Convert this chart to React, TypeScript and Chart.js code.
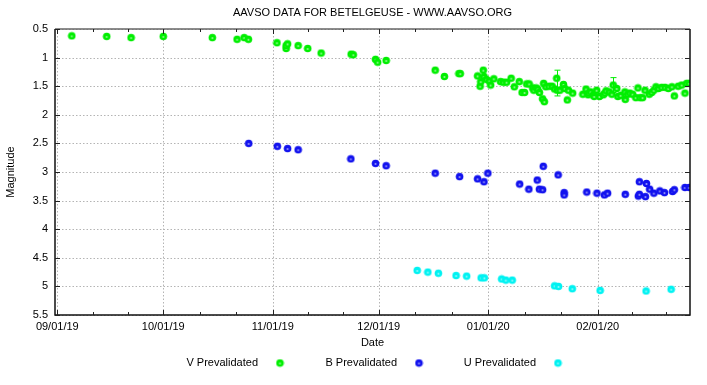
import React, { useEffect, useRef } from 'react';
import { Chart, registerables } from 'chart.js';

Chart.register(...registerables);

const TITLE = 'AAVSO DATA FOR BETELGEUSE - WWW.AAVSO.ORG';
const X_TITLE = 'Date';
const Y_TITLE = 'Magnitude';

// x values are days since 09/01/19
const X_MIN = -0.65;
const X_MAX = 179.13;
const tickDays = [0, 30, 61, 91, 122, 153];
const tickLabels = ['09/01/19', '10/01/19', '11/01/19', '12/01/19', '01/01/20', '02/01/20'];
const yTicks = [0.5, 1, 1.5, 2, 2.5, 3, 3.5, 4, 4.5, 5, 5.5];

const seriesNames = ['V Prevalidated', 'B Prevalidated', 'U Prevalidated'];
const seriesColors = ['#00ee00', '#1212ee', '#00f2f2'];

const vDays = [
  4.1, 14.0, 20.9, 30.0, 43.9, 50.9, 52.9, 54.1, 62.2, 64.8, 64.8, 65.2, 68.2, 70.9, 74.7,
  83.2, 83.8, 90.1, 90.7, 93.1, 107.0, 109.6, 113.7, 114.1, 119.0, 119.7, 119.9, 120.6,
  120.8, 121.5, 122.3, 122.7, 123.6, 125.5, 126.3, 127.2, 128.5, 129.4, 130.8, 131.6, 132.3,
  132.9, 133.6, 134.6, 134.9, 135.6, 136.0, 136.5, 137.4, 137.9, 137.7, 138.3, 139.2, 140.1,
  140.8, 141.4, 141.6, 142.3, 143.3, 143.7, 144.4, 144.7, 145.9, 148.8, 149.7, 150.3, 150.5,
  151.0, 151.8, 152.0, 152.7, 153.5, 154.6, 155.0, 155.4, 156.3, 157.0, 157.4, 158.4, 158.7,
  159.5, 160.7, 160.8, 161.5, 162.1, 162.9, 163.8, 164.4, 165.0, 165.7, 166.4, 167.6, 168.3,
  168.9, 169.5, 170.2, 171.1, 172.1, 173.0, 174.0, 174.7, 175.8, 176.8, 177.7, 178.2, 178.9,
];
const vMags = [
  0.62, 0.63, 0.65, 0.63, 0.65, 0.68, 0.65, 0.68, 0.74, 0.84, 0.79, 0.76, 0.79, 0.84, 0.92,
  0.94, 0.95, 1.03, 1.08, 1.05, 1.22, 1.33, 1.28, 1.28, 1.32, 1.50, 1.42, 1.22,
  1.33, 1.38, 1.41, 1.48, 1.37, 1.42, 1.43, 1.43, 1.36, 1.51, 1.42, 1.61, 1.61,
  1.46, 1.46, 1.53, 1.57, 1.53, 1.55, 1.61, 1.72, 1.77, 1.45, 1.51, 1.50, 1.50,
  1.55, 1.36, 1.57, 1.57, 1.47, 1.54, 1.74, 1.57, 1.62, 1.64, 1.55, 1.65, 1.62,
  1.60, 1.65, 1.68, 1.57, 1.68, 1.65, 1.62, 1.58, 1.60, 1.64, 1.48, 1.54, 1.68,
  1.66, 1.60, 1.73, 1.64, 1.62, 1.64, 1.70, 1.53, 1.70, 1.70, 1.57, 1.64, 1.61,
  1.57, 1.51, 1.54, 1.52, 1.52, 1.54, 1.51, 1.67, 1.50, 1.48, 1.62, 1.45, 1.45,
];

const bDays = [
  54.2, 62.3, 65.2, 68.2, 83.1, 90.1, 93.1, 107.0, 113.9, 119.0, 120.8, 121.9, 130.9, 133.5,
  135.9, 137.6, 136.5, 137.4, 141.8, 143.5, 143.5, 149.9, 152.8, 154.9, 155.8, 160.8, 164.5,
  164.8, 166.5, 164.8, 166.8, 167.7, 168.9, 170.6, 171.9, 174.2, 174.7, 177.7, 178.9,
];
const bMags = [
  2.50, 2.55, 2.59, 2.61, 2.77, 2.85, 2.89, 3.02, 3.08, 3.12, 3.17, 3.02, 3.21, 3.30,
  3.14, 2.90, 3.30, 3.31, 3.05, 3.36, 3.40, 3.35, 3.37, 3.40, 3.37, 3.39, 3.42,
  3.39, 3.43, 3.17, 3.20, 3.30, 3.37, 3.33, 3.36, 3.34, 3.31, 3.27, 3.27,
];

const uDays = [
  101.9, 104.9, 107.9, 112.9, 115.9, 120.0, 120.9, 125.8, 127.0, 128.8, 140.8, 141.9, 145.8,
  153.7, 166.7, 173.8,
];
const uMags = [
  4.72, 4.75, 4.77, 4.81, 4.82, 4.85, 4.85, 4.87, 4.89, 4.89, 4.99, 5.00, 5.04,
  5.07, 5.08, 5.05,
];

// V error bars
const vErrDays = [141.4, 157.4];
const vErrLow = [1.22, 1.35];
const vErrHigh = [1.67, 1.61];

const FONT = '"Liberation Sans", Arial, Helvetica, sans-serif';

function makeDot(color: string): HTMLCanvasElement {
  const c = document.createElement('canvas');
  c.width = 9;
  c.height = 9;
  const g = c.getContext('2d')!;
  g.fillStyle = color;
  g.beginPath();
  g.arc(4.5, 4.5, 3.8, 0, Math.PI * 2);
  g.fill();
  g.fillStyle = 'rgba(255,255,255,0.55)';
  g.beginPath();
  g.arc(4.5, 5, 1.1, 0, Math.PI * 2);
  g.fill();
  return c;
}

const toPoints = (xs: number[], ys: number[]) => xs.map((x, i) => ({ x, y: ys[i] }));

export default function App() {
  const ref = useRef<HTMLCanvasElement | null>(null);

  useEffect(() => {
    document.body.style.margin = '0';
    const canvas = ref.current;
    if (!canvas) return;
    const dots = seriesColors.map(makeDot);

    const framePlugin = {
      id: 'gnuplotFrame',
      beforeDatasetsDraw(chart: any) {
        const { ctx, chartArea: a, scales } = chart;
        ctx.save();
        ctx.strokeStyle = '#b4b4b4';
        ctx.lineWidth = 1;
        ctx.setLineDash([1.5, 2]);
        tickDays.forEach((d) => {
          const x = Math.round(scales.x.getPixelForValue(d)) + 0.5;
          ctx.beginPath();
          ctx.moveTo(x, a.top);
          ctx.lineTo(x, a.bottom);
          ctx.stroke();
        });
        yTicks.forEach((m) => {
          const y = Math.round(scales.y.getPixelForValue(m)) + 0.5;
          ctx.beginPath();
          ctx.moveTo(a.left, y);
          ctx.lineTo(a.right, y);
          ctx.stroke();
        });
        ctx.restore();
      },
      afterDatasetsDraw(chart: any) {
        const { ctx, chartArea: a, scales } = chart;
        ctx.save();
        // error bars
        ctx.strokeStyle = seriesColors[0];
        ctx.lineWidth = 1;
        vErrDays.forEach((d, i) => {
          const x = Math.round(scales.x.getPixelForValue(d)) + 0.5;
          const y1 = scales.y.getPixelForValue(vErrLow[i]);
          const y2 = scales.y.getPixelForValue(vErrHigh[i]);
          ctx.beginPath();
          ctx.moveTo(x, y1);
          ctx.lineTo(x, y2);
          ctx.moveTo(x - 3, y1);
          ctx.lineTo(x + 3, y1);
          ctx.moveTo(x - 3, y2);
          ctx.lineTo(x + 3, y2);
          ctx.stroke();
        });
        // frame
        ctx.lineWidth = 1.5;
        ctx.strokeStyle = '#111';
        ctx.beginPath();
        ctx.moveTo(a.left, a.top);
        ctx.lineTo(a.left, a.bottom);
        ctx.lineTo(a.right, a.bottom);
        ctx.lineTo(a.right, a.top);
        ctx.stroke();
        ctx.strokeStyle = '#666';
        ctx.beginPath();
        ctx.moveTo(a.left, a.top);
        ctx.lineTo(a.right, a.top);
        ctx.stroke();
        // ticks
        ctx.lineWidth = 1;
        ctx.strokeStyle = '#222';
        const xTick = (d: number, len: number) => {
          const x = Math.round(scales.x.getPixelForValue(d)) + 0.5;
          if (x < a.left || x > a.right) return;
          ctx.beginPath();
          ctx.moveTo(x, a.bottom);
          ctx.lineTo(x, a.bottom - len);
          ctx.moveTo(x, a.top);
          ctx.lineTo(x, a.top + len);
          ctx.stroke();
        };
        tickDays.forEach((d, i) => {
          xTick(d, 5);
          const next = i < tickDays.length - 1 ? tickDays[i + 1] : d + 29;
          const step = (next - d) / 3;
          xTick(d + step, 3);
          xTick(d + 2 * step, 3);
        });
        yTicks.forEach((m) => {
          const y = Math.round(scales.y.getPixelForValue(m)) + 0.5;
          ctx.beginPath();
          ctx.moveTo(a.left, y);
          ctx.lineTo(a.left + 5, y);
          ctx.moveTo(a.right, y);
          ctx.lineTo(a.right - 5, y);
          ctx.stroke();
        });
        // legend (text followed by marker)
        ctx.font = `11px ${FONT}`;
        ctx.fillStyle = '#000';
        ctx.textAlign = 'right';
        ctx.textBaseline = 'middle';
        const ly = 363;
        seriesNames.forEach((name, i) => {
          const tx = 258 + i * 139;
          ctx.fillText(name, tx, ly);
          const dot = dots[i];
          ctx.drawImage(dot, tx + 22 - dot.width / 2, ly - dot.height / 2);
        });
        ctx.restore();
      },
    };

    const tickFont = { family: FONT, size: 11 };
    const chart = new Chart(canvas, {
      type: 'scatter',
      data: {
        datasets: [
          { label: seriesNames[2], data: toPoints(uDays, uMags), pointStyle: dots[2] as any, pointRadius: 4 },
          { label: seriesNames[1], data: toPoints(bDays, bMags), pointStyle: dots[1] as any, pointRadius: 4 },
          { label: seriesNames[0], data: toPoints(vDays, vMags), pointStyle: dots[0] as any, pointRadius: 4 },
        ],
      },
      options: {
        animation: false,
        responsive: false,
        events: [],
        layout: { padding: { left: 0, right: 17, top: 0, bottom: 35 } },
        plugins: {
          legend: { display: false },
          tooltip: { enabled: false },
          title: {
            display: true,
            text: TITLE,
            fullSize: false,
            color: '#000',
            font: { family: FONT, size: 11, weight: 'normal' },
            padding: { top: 6, bottom: 9.8 },
          },
        },
        scales: {
          x: {
            type: 'linear',
            min: X_MIN,
            max: X_MAX,
            afterBuildTicks: (s: any) => {
              s.ticks = tickDays.map((v) => ({ value: v }));
            },
            afterFit: (s: any) => {
              s.height = 35;
            },
            ticks: {
              autoSkip: false,
              maxRotation: 0,
              padding: 5,
              color: '#000',
              font: tickFont,
              callback: (v: any) => tickLabels[tickDays.indexOf(Number(v))] ?? '',
            },
            grid: { display: false, drawTicks: false },
            border: { display: false },
            title: { display: true, text: X_TITLE, color: '#000', font: tickFont, padding: { top: 0, bottom: 0 } },
          },
          y: {
            type: 'linear',
            reverse: true,
            min: 0.5,
            max: 5.5,
            afterBuildTicks: (s: any) => {
              s.ticks = yTicks.map((v) => ({ value: v }));
            },
            afterFit: (s: any) => {
              s.width = 55;
            },
            ticks: {
              padding: 7,
              color: '#000',
              font: tickFont,
              callback: (v: any) => String(v),
            },
            grid: { display: false, drawTicks: false },
            border: { display: false },
            title: { display: true, text: Y_TITLE, color: '#000', font: tickFont, padding: { top: 4, bottom: 0 } },
          },
        },
      },
      plugins: [framePlugin],
    });
    return () => chart.destroy();
  }, []);

  return (
    <div style={{ width: 707, height: 385, background: '#fff' }}>
      <canvas ref={ref} width={707} height={385} style={{ display: 'block' }} />
    </div>
  );
}
